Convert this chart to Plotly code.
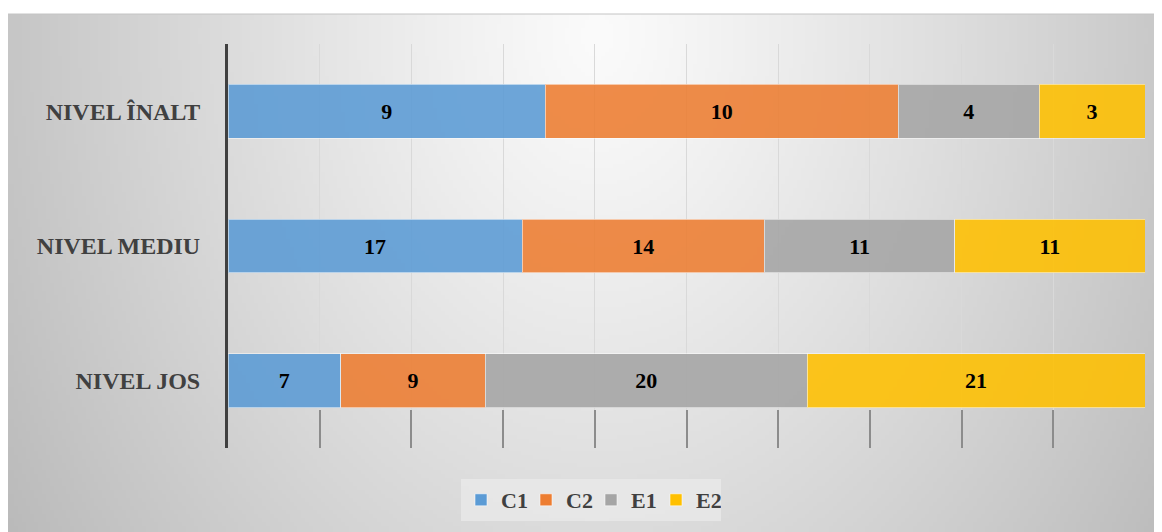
import zlib, struct, base64, math
import plotly.graph_objects as go

categories = ["NIVEL JOS", "NIVEL MEDIU", "NIVEL ÎNALT"]
series_names = ["C1", "C2", "E1", "E2"]
c1 = [7, 17, 9]
c2 = [9, 14, 10]
e1 = [20, 11, 4]
e2 = [21, 11, 3]
values = [c1, c2, e1, e2]
colors = ["#5B9BD5", "#ED7D31", "#A5A5A5", "#FFC000"]

# figure is placed at (8, 8) on the page by the body margin
W, H = 1154, 524
L, R, T, B = 220, 1137, 36, 440
FRAME_TOP = 6


def make_bg(w, h):
    rows = []
    for y in range(h):
        row = bytearray([0])
        for x in range(w):
            dx = (x / (w - 1)) * 1154 - 590
            dy = (y / (h - 1)) * 518 - 20
            d = math.sqrt((dx / 620) ** 2 + (dy / 820) ** 2)
            v = 251 - 56 * d ** 1.15
            row.append(max(0, min(255, int(v))))
        rows.append(bytes(row))
    raw = b"".join(rows)

    def chunk(t, d):
        c = struct.pack(">I", len(d)) + t + d
        return c + struct.pack(">I", zlib.crc32(t + d) & 0xFFFFFFFF)

    png = (b"\x89PNG\r\n\x1a\n" + chunk(b"IHDR", struct.pack(">IIBBBBB", w, h, 8, 0, 0, 0, 0))
           + chunk(b"IDAT", zlib.compress(raw)) + chunk(b"IEND", b""))
    return "data:image/png;base64," + base64.b64encode(png).decode()


fig = go.Figure()
for name, vals, col in zip(series_names, values, colors):
    fig.add_trace(go.Bar(
        y=categories, x=vals, name=name, orientation="h",
        marker=dict(color=col, opacity=0.88, line=dict(color="rgba(255,255,255,0.55)", width=1)),
        text=vals, texttemplate="%{text}", textposition="inside",
        insidetextanchor="middle", textangle=0,
        textfont=dict(family="Liberation Serif", size=22, color="black", weight="bold"),
        hoverinfo="skip",
    ))

pw = R - L
ph = B - T
bg = make_bg(289, 130)
fig.add_layout_image(dict(
    source=bg, xref="paper", yref="paper",
    x=(0 - L) / pw, y=(B - FRAME_TOP) / ph,
    sizex=W / pw, sizey=(H - FRAME_TOP) / ph,
    xanchor="left", yanchor="top", sizing="stretch", layer="below",
))
fig.add_shape(type="line", xref="paper", yref="paper",
              x0=(0 - L) / pw, x1=(W - L) / pw,
              y0=(B - FRAME_TOP) / ph, y1=(B - FRAME_TOP) / ph,
              line=dict(color="#c4c4c4", width=1), layer="below")

fig.update_layout(
    width=W, height=H,
    barmode="stack", barnorm="percent", bargap=0.6,
    paper_bgcolor="white", plot_bgcolor="rgba(0,0,0,0)",
    margin=dict(l=L, r=W - R, t=T, b=H - B, autoexpand=False),
    font=dict(family="Liberation Serif", color="#404040"),
    showlegend=True,
    legend=dict(
        orientation="h", xanchor="center", yanchor="middle",
        xref="container", yref="container",
        x=583 / W, y=1 - 492 / H,
        bgcolor="rgba(235,235,235,0.7)",
        font=dict(family="Liberation Serif", size=22, color="#404040", weight="bold"),
        itemwidth=30, traceorder="normal",
        entrywidth=20, entrywidthmode="pixels",
    ),
    xaxis=dict(
        range=[0, 100], dtick=10, showticklabels=False,
        showgrid=True, gridcolor="#d9d9d9", gridwidth=1,
        ticks="inside", ticklen=38, tickcolor="#8c8c8c", tickwidth=1.5,
        zeroline=False, showline=False, fixedrange=True,
    ),
    yaxis=dict(
        showline=True, linecolor="#404040", linewidth=3,
        ticks="", showgrid=False, ticklabelstandoff=20,
        tickfont=dict(family="Liberation Serif", size=24, color="#404040", weight="bold"),
        range=[-0.5, 2.5], fixedrange=True,
    ),
)

fig.write_html("out.html")
